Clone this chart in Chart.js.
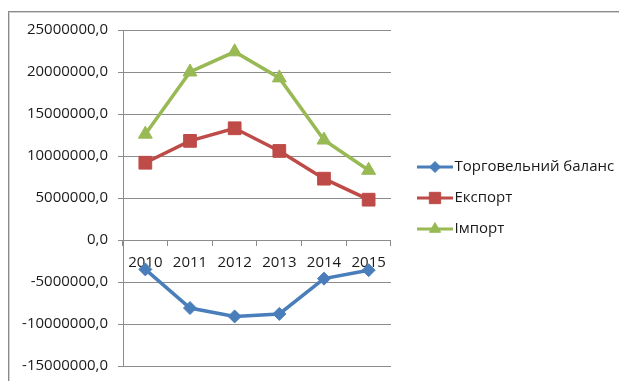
<!DOCTYPE html>
<html lang="uk">
<head>
  <meta charset="UTF-8">
  <title>Торговельний баланс, експорт, імпорт</title>
  <script src="https://cdn.jsdelivr.net/npm/chart.js@4.4.1/dist/chart.umd.min.js"></script>
  <style>
    html, body { margin: 0; padding: 0; background: #fff; }
    #wrap { position: relative; width: 619px; height: 381px; overflow: hidden; }
    /* outer frame of the chart object, it runs off the right and bottom edge */
    #frame { position: absolute; left: 8px; top: 11px; width: 700px; height: 500px;
             border: 1px solid #8a8a8a; box-shadow: inset 1px 1px 0 #d2d2d2; }
    #chart { position: absolute; left: 0; top: 0; }
  </style>
</head>
<body>
  <div id="wrap">
    <div id="frame"></div>
    <canvas id="chart" width="619" height="381"></canvas>
  </div>
  <script>
    // data
    const years = ['2010', '2011', '2012', '2013', '2014', '2015'];
    const balance = [-3500000, -8100000, -9100000, -8800000, -4600000, -3600000];
    const exportVals = [9200000, 11800000, 13300000, 10600000, 7300000, 4800000];
    const importVals = [12600000, 20000000, 22400000, 19300000, 11900000, 8300000];
    const seriesNames = ['Торговельний баланс', 'Експорт', 'Імпорт'];
    const yMin = -15000000;
    const yMax = 25000000;
    const yStep = 5000000;

    const BLUE = '#4a7ebb';
    const RED = '#be4b48';
    const GREEN = '#98b954';
    const GRID = '#8c8c8c';
    const TEXT = '#1a1a1a';
    const font = { family: '"Open Sans", "Liberation Sans", sans-serif', size: 15 };

    // small line + marker pictures for the legend (like the Excel one)
    // the picture is wider than pointStyleWidth so the line reaches close to the text
    function legendIcon(color, style, radius) {
      const c = document.createElement('canvas');
      c.width = 52; c.height = 18;
      const ctx = c.getContext('2d');
      ctx.strokeStyle = color;
      ctx.fillStyle = color;
      ctx.lineWidth = 3;
      ctx.beginPath();
      ctx.moveTo(16, 9);
      ctx.lineTo(52, 9);
      ctx.stroke();
      ctx.lineWidth = 1;
      Chart.helpers.drawPoint(ctx, { pointStyle: style, radius: radius, borderWidth: 1 }, 34, 9);
      return c;
    }
    const icons = [
      legendIcon(BLUE, 'rectRot', 5.5),
      legendIcon(RED, 'rect', 8),
      legendIcon(GREEN, 'triangle', 6.5)
    ];

    new Chart(document.getElementById('chart'), {
      type: 'line',
      data: {
        labels: years,
        datasets: [
          { label: seriesNames[0], data: balance, borderColor: BLUE, backgroundColor: BLUE,
            pointStyle: 'rectRot', pointRadius: 6.5, borderWidth: 3.5, pointBorderWidth: 1 },
          { label: seriesNames[1], data: exportVals, borderColor: RED, backgroundColor: RED,
            pointStyle: 'rect', pointRadius: 9, borderWidth: 3.5, pointBorderWidth: 1 },
          { label: seriesNames[2], data: importVals, borderColor: GREEN, backgroundColor: GREEN,
            pointStyle: 'triangle', pointRadius: 8, borderWidth: 3.5, pointBorderWidth: 1 }
        ]
      },
      options: {
        responsive: false,
        animation: false,
        layout: { padding: { top: 30, bottom: 15, left: 0, right: -5.2 } },
        scales: {
          x: {
            type: 'category',
            offset: true,
            position: { y: 0 },
            grid: { offset: true, drawOnChartArea: false, tickLength: 5, color: GRID },
            border: { color: GRID },
            ticks: { color: TEXT, font: font, padding: 9, maxRotation: 0, autoSkip: false }
          },
          y: {
            min: yMin,
            max: yMax,
            grid: { color: GRID, tickLength: 5 },
            border: { color: GRID },
            ticks: {
              stepSize: yStep,
              color: TEXT,
              font: font,
              padding: 10,
              callback: v => v.toFixed(1).replace('.', ',')
            },
            afterFit: s => {
              s.width = 123;
              // the tick padding should not push the plot away from the top/bottom
              s.paddingTop = 0;
              s.paddingBottom = 0;
            }
          }
        },
        plugins: {
          tooltip: { enabled: false },
          legend: {
            position: 'right',
            maxWidth: 320,
            labels: {
              usePointStyle: true,
              pointStyleWidth: 40,
              boxHeight: 15,
              padding: 16,
              color: TEXT,
              font: font,
              generateLabels: chart => {
                const items = Chart.defaults.plugins.legend.labels.generateLabels(chart);
                items.forEach((it, i) => { it.pointStyle = icons[i]; });
                return items;
              }
            }
          }
        }
      }
    });
  </script>
</body>
</html>
